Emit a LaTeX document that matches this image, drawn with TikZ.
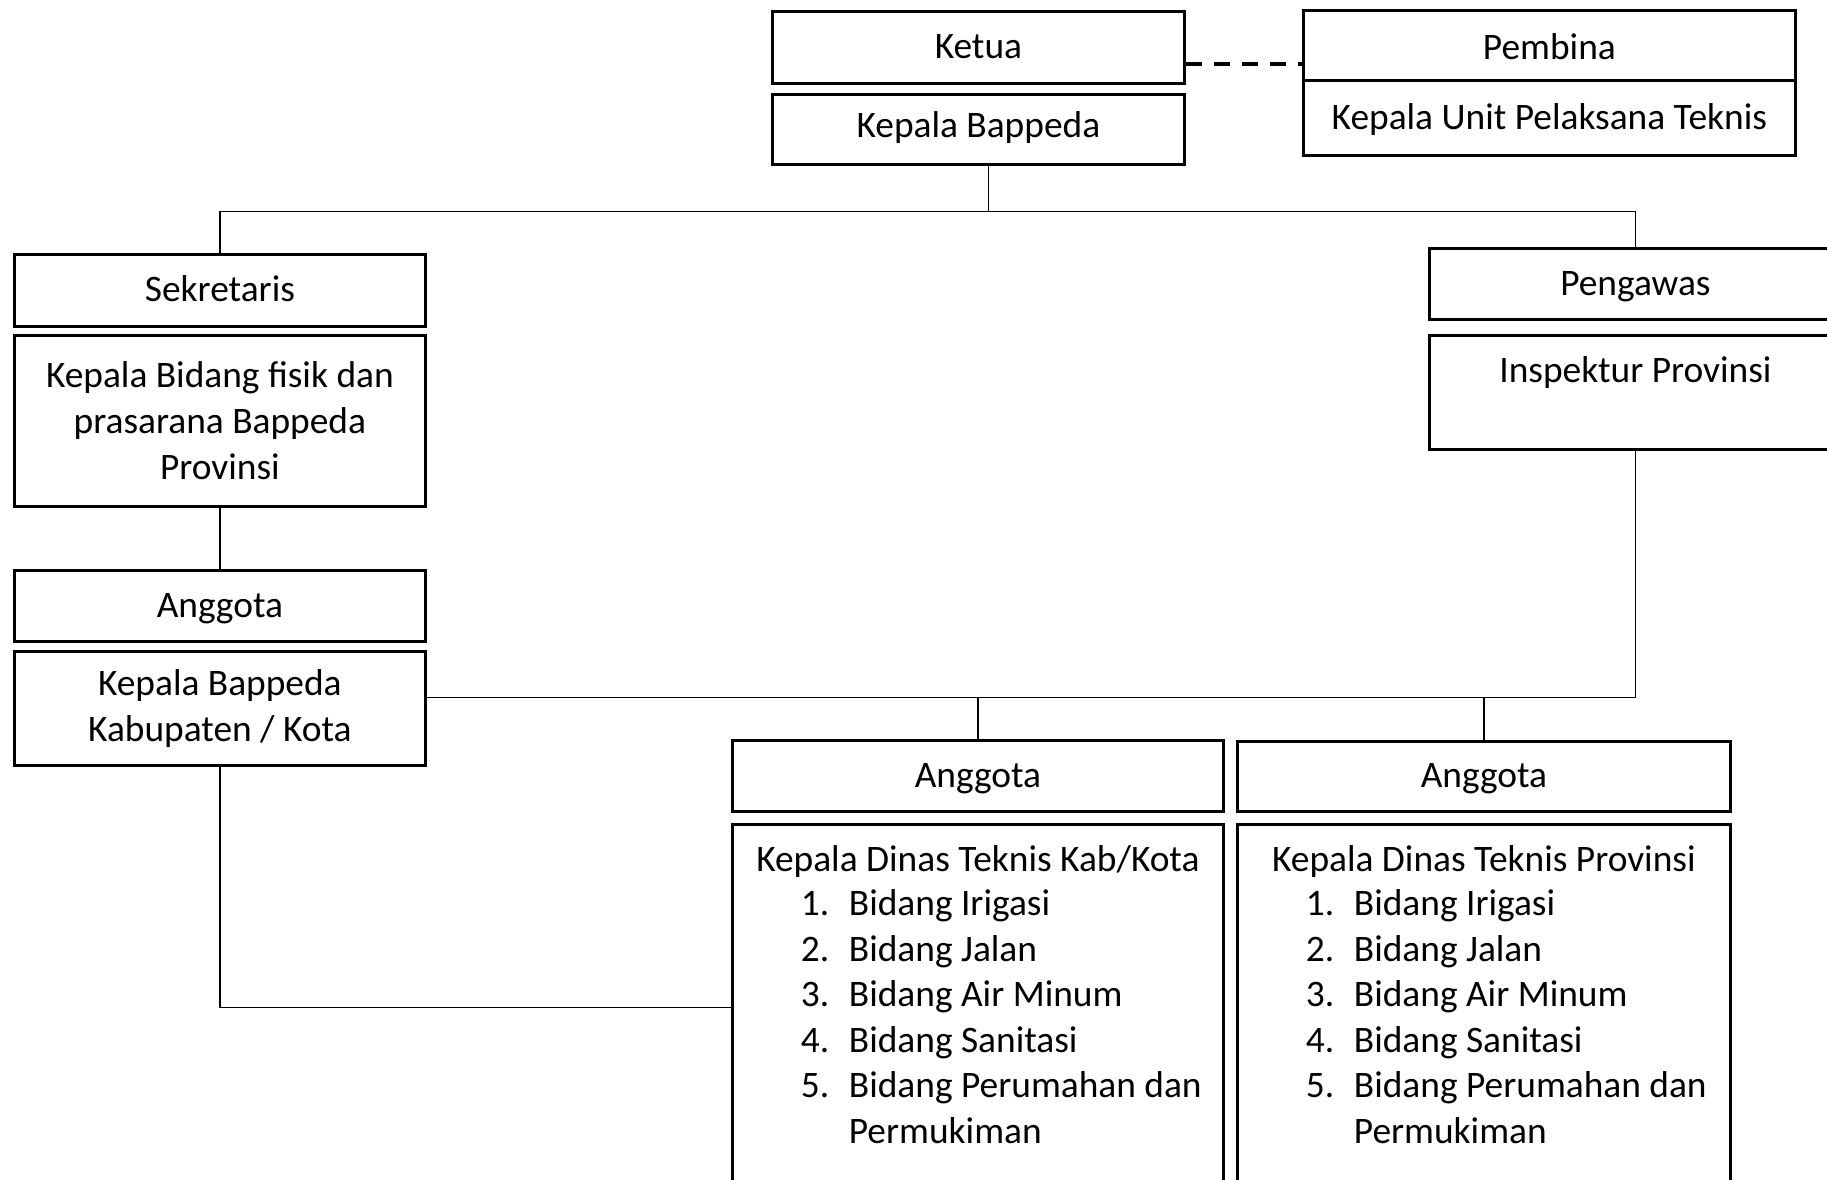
\documentclass[tikz,border=0pt]{standalone}
\usepackage{fontspec}
\setmainfont{Carlito}
\usetikzlibrary{positioning,calc}
\tikzset{line cap=butt,line join=miter}
\tikzset{
    box/.style={draw,line width=1.4pt,inner sep=0pt,align=center,font=\fontsize{18.7}{23}\selectfont},
    oneline/.style={text height=11.5pt,text depth=0pt},
    item/.style={inner sep=0pt,font=\fontsize{18.7}{23}\selectfont},
    link/.style={line width=0.6pt},
    dashlink/.style={line width=2pt,dash pattern=on 8pt off 6pt}
}

\begin{document}
\begin{tikzpicture}[x=0.5pt,y=-0.5pt]
    \useasboundingbox (0,0) rectangle (1827,1179);
    \clip (0,0) rectangle (1827,1179);
    % top row
    \node[box,oneline,anchor=north west,minimum width=206pt,minimum height=36pt] (ketua) at (771,10) {Ketua};
    \node[box,oneline,text height=8.5pt,below=4pt of ketua,minimum width=206pt,minimum height=35pt] (bappeda) {Kepala Bappeda};
    \node[box,oneline,text height=14pt,anchor=north west,minimum width=246pt,minimum height=35pt] (pembina) at (1302,9) {Pembina};
    \node[box,oneline,below=-1.4pt of pembina,minimum width=246pt,minimum height=37.5pt] (upt) {Kepala Unit Pelaksana Teknis};
    % left column
    \node[box,oneline,anchor=north west,minimum width=205.5pt,minimum height=36pt] (sekretaris) at (13,253) {Sekretaris};
    \node[box,below=3pt of sekretaris,minimum width=205.5pt,minimum height=85.5pt] (kabid) {Kepala Bidang fisik dan\\prasarana Bappeda\\Provinsi};
    \node[box,oneline,anchor=north west,minimum width=205.5pt,minimum height=35.5pt] (anggotaA) at (13,569) {Anggota};
    \node[box,below=3.5pt of anggotaA,minimum width=205.5pt,minimum height=57pt] (kabkota) {Kepala Bappeda\\Kabupaten / Kota};
    % right column
    \node[box,oneline,anchor=north west,minimum width=206pt,minimum height=35.5pt] (pengawas) at (1428,247) {Pengawas};
    \node[box,below=6.5pt of pengawas,minimum width=206pt,minimum height=57pt] (inspektur) {Inspektur Provinsi\\\mbox{}};
    % bottom row
    \node[box,oneline,anchor=north west,minimum width=245.5pt,minimum height=35.5pt] (anggotaB) at (731,739) {Anggota};
    \node[box,below=5pt of anggotaB,minimum width=245.5pt,minimum height=183pt] (dinasA) {};
    \node[box,oneline,anchor=north west,minimum width=246.5pt,minimum height=35pt] (anggotaC) at (1236,740) {Anggota};
    \node[box,below=5pt of anggotaC,minimum width=246.5pt,minimum height=183pt] (dinasB) {};
    \node[item,anchor=base] (dinasA-head) at ($(dinasA.north)+(0,49)$) {Kepala Dinas Teknis Kab/Kota};
    \node[item,anchor=base] (dinasB-head) at ($(dinasB.north)+(0,49)$) {Kepala Dinas Teknis Provinsi};
    \foreach \b in {dinasA,dinasB}{%
        \foreach \i/\lbl in {1/Irigasi,2/Jalan,3/Air Minum,4/Sanitasi,5/Perumahan dan}{%
            \node[item,anchor=base west] (\b-no\i) at ($(\b.north west)+(69.5,47.5+45.5*\i)$) {\i.};
            \node[item,anchor=base west] (\b-item\i) at ($(\b.north west)+(117.5,47.5+45.5*\i)$) {Bidang \lbl};
        }
        \node[item,anchor=base west] (\b-item6) at ($(\b.north west)+(117.5,320.5)$) {Permukiman};
    }
    % connectors
    \draw[dashlink] ([yshift=-8.5pt]ketua.east) -- ([yshift=-8.5pt]ketua.east -| pembina.west);
    \coordinate (topbus) at ($(bappeda.south)+(10,46)$);
    \draw[link] ([xshift=5pt]bappeda.south) -- (topbus);
    \draw[link] (sekretaris.north) |- (topbus) -| (pengawas.north);
    \draw[link] (kabid.south) -- (anggotaA.north);
    \coordinate (midbus) at ($(kabkota.east)+(0,-11)$);
    \draw[link] (inspektur.south) |- (midbus);
    \draw[link] (anggotaB.north) -- (anggotaB.north |- midbus);
    \draw[link] (anggotaC.north) -- (anggotaC.north |- midbus);
    \draw[link] (kabkota.south) |- (dinasA.west);
\end{tikzpicture}
\end{document}
